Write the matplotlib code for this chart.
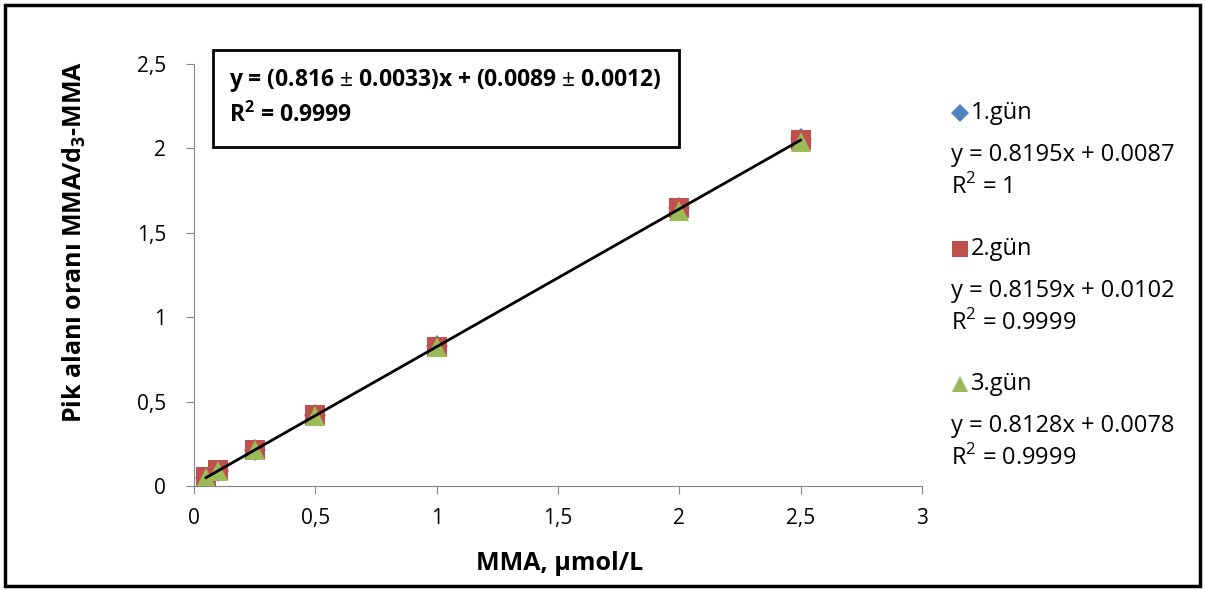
import matplotlib.pyplot as plt
from matplotlib.lines import Line2D
from matplotlib.patches import Rectangle
from matplotlib.ticker import FuncFormatter

x = [0.05, 0.1, 0.25, 0.5, 1.0, 2.0, 2.5]
gun1 = [0.049, 0.091, 0.214, 0.419, 0.828, 1.648, 2.057]
gun2 = [0.052, 0.094, 0.213, 0.418, 0.826, 1.645, 2.048]
gun3 = [0.047, 0.088, 0.211, 0.415, 0.821, 1.630, 2.039]
names = ["1.gün", "2.gün", "3.gün"]
eqs = ["y = 0.8195x + 0.0087", "y = 0.8159x + 0.0102", "y = 0.8128x + 0.0078"]
r2 = ["R$^2$ = 1", "R$^2$ = 0.9999", "R$^2$ = 0.9999"]
fit_slope, fit_icpt = 0.816, 0.0089

plt.rcParams["font.family"] = ["Open Sans", "DejaVu Sans"]
plt.rcParams["mathtext.fontset"] = "custom"
plt.rcParams["mathtext.rm"] = "Open Sans"
plt.rcParams["mathtext.bf"] = "Open Sans:bold"

fig = plt.figure(figsize=(12.05, 5.91), dpi=100)
ax = fig.add_axes([0.161, 0.1777, 0.604, 0.714])

colors = ["#4F81BD", "#C0504D", "#9BBB59"]
markers = ["D", "s", "^"]
sizes = [11, 15, 15]
for ys, c, m, s in zip([gun1, gun2, gun3], colors, markers, sizes):
    ax.plot(x, ys, linestyle="none", marker=m, color=c, markersize=s, markeredgewidth=0)

fx = [x[0], x[-1]]
ax.plot(fx, [fit_slope * v + fit_icpt for v in fx], color="black", lw=2)

ax.set_xlim(0, 3)
ax.set_ylim(0, 2.5)
ax.set_xticks([0, 0.5, 1, 1.5, 2, 2.5, 3])
ax.set_yticks([0, 0.5, 1, 1.5, 2, 2.5])
fmt = FuncFormatter(lambda v, p: f"{v:g}".replace(".", ","))
ax.xaxis.set_major_formatter(fmt)
ax.yaxis.set_major_formatter(fmt)
for sp in ["top", "right"]:
    ax.spines[sp].set_visible(False)
for sp in ["left", "bottom"]:
    ax.spines[sp].set_color("#868686")
ax.tick_params(direction="out", length=6, color="#868686", labelsize=15)
ax.tick_params(axis="x", pad=10)
ax.tick_params(axis="y", pad=14)

ax.set_xlabel("MMA, µmol/L", fontsize=18, fontweight="bold")
ax.set_ylabel("Pik alanı oranı MMA/d$_\\mathbf{3}$-MMA", fontsize=18, fontweight="bold")
ax.xaxis.set_label_coords(0.503, -0.155)
ax.yaxis.set_label_coords(-0.146, 0.578)

# fit annotation box
fig.add_artist(Rectangle((213 / 1205, 1 - 147 / 591), 466 / 1205, 97 / 591,
                         transform=fig.transFigure, fill=False, lw=2, ec="black"))
fig.text(229 / 1205, 1 - 81 / 591, "y = (0.816 $\\pm$ 0.0033)x + (0.0089 $\\pm$ 0.0012)",
         fontsize=16.5, fontweight="bold", va="center")
fig.text(229 / 1205, 1 - 115 / 591, "R$^\\mathbf{2}$ = 0.9999", fontsize=16.5,
         fontweight="bold", va="center")

# legend with trendline equations
tops = [113, 249, 384]
leg_sizes = [9, 11, 12]
for i in range(3):
    yt = tops[i]
    fig.add_artist(Line2D([960 / 1205], [1 - yt / 591], transform=fig.transFigure,
                          marker=markers[i], color=colors[i], markersize=leg_sizes[i],
                          markeredgewidth=0, linestyle="none"))
    fig.text(971 / 1205, 1 - yt / 591, names[i], fontsize=17, va="center")
    fig.text(951 / 1205, 1 - (yt + 42) / 591, eqs[i], fontsize=17, va="center")
    fig.text(951 / 1205, 1 - (yt + 74) / 591, r2[i], fontsize=17, va="center")

# outer frame
fig.add_artist(Rectangle((5 / 1205, 5 / 591), 1195 / 1205, 581 / 591,
                         transform=fig.transFigure, fill=False, lw=2.5, ec="black"))

fig.savefig("out.png", dpi=100)
